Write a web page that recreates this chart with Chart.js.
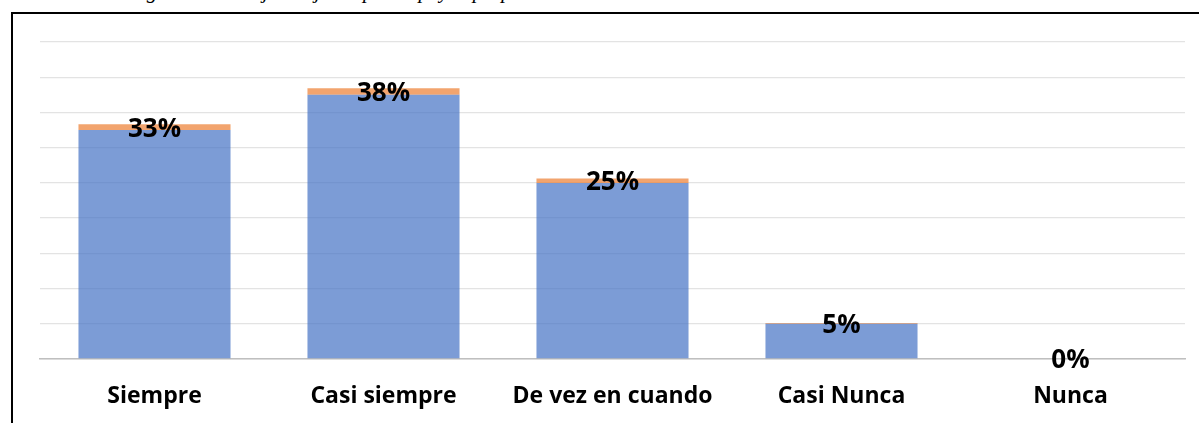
<!DOCTYPE html>
<html>
<head>
<meta charset="utf-8">
<script src="https://cdn.jsdelivr.net/npm/chart.js@4.4.1/dist/chart.umd.min.js"></script>
<style>
  html, body { margin: 0; padding: 0; background: #fff; overflow: hidden; }
  body { width: 1199px; height: 423px; position: relative; }
  #caption { position: absolute; left: 128px; top: -21px; font: italic 21px "Liberation Serif", serif; color: #000; white-space: nowrap; }
  #frame { position: absolute; left: 11px; top: 12px; width: 1260px; height: 500px; border: 2px solid #000; box-sizing: border-box; }
  #wrap { position: absolute; left: 0; top: 0; width: 1199px; height: 423px; }
</style>
</head>
<body>
<div id="caption">Figura 6. Trabajo conjunto para apoyar propuestas</div>
<div id="frame"></div>
<div id="wrap"><canvas id="chart"></canvas></div>
<script>
// Frecuencia (azul) + porcentaje (naranja) apilados
var categories = ['Siempre', 'Casi siempre', 'De vez en cuando', 'Casi Nunca', 'Nunca'];
var frecuencia = [13, 15, 10, 2, 0];
var porcentaje = [0.325, 0.375, 0.25, 0.05, 0];
var yMin = 0, yMax = 18, yStep = 2;

var FONT = '"Open Sans", "DejaVu Sans", sans-serif';

// etiquetas de porcentaje sobre el segmento naranja
var pctLabels = {
  id: 'pctLabels',
  afterDatasetsDraw: function (chart) {
    var meta = chart.getDatasetMeta(1);
    var ctx = chart.ctx;
    ctx.save();
    ctx.font = 'bold 26px ' + FONT;
    ctx.fillStyle = '#000';
    ctx.textAlign = 'center';
    ctx.textBaseline = 'middle';
    meta.data.forEach(function (el, i) {
      var y = (el.y + el.base) / 2;
      ctx.fillText(Math.round(porcentaje[i] * 100) + '%', el.x, y + 2);
    });
    ctx.restore();
  }
};

new Chart(document.getElementById('chart').getContext('2d'), {
  type: 'bar',
  data: {
    labels: categories,
    datasets: [{
      label: 'Frecuencia',
      data: frecuencia,
      backgroundColor: 'rgba(68,114,196,0.7)',
      borderWidth: 0,
      categoryPercentage: 1,
      barPercentage: 0.664
    }, {
      label: 'Porcentaje',
      data: porcentaje,
      backgroundColor: 'rgba(237,125,49,0.7)',
      borderWidth: 0,
      categoryPercentage: 1,
      barPercentage: 0.664
    }]
  },
  options: {
    responsive: true,
    maintainAspectRatio: false,
    animation: false,
    layout: { padding: { left: 40, right: 14, top: 42, bottom: 0 } },
    plugins: { legend: { display: false }, tooltip: { enabled: false } },
    scales: {
      x: {
        stacked: true,
        grid: { display: false, drawTicks: false },
        border: { display: true, color: '#bfbfbf', width: 1.5 },
        ticks: { color: '#000', padding: 24, font: { family: FONT, size: 23, weight: 'bold' } },
        afterFit: function (scale) { scale.height = 64; }
      },
      y: {
        stacked: true,
        min: yMin, max: yMax,
        ticks: { display: false, stepSize: yStep },
        grid: { color: '#e3e3e3', lineWidth: 1.3, drawTicks: false },
        border: { display: false }
      }
    }
  },
  plugins: [pctLabels]
});
</script>
</body>
</html>
